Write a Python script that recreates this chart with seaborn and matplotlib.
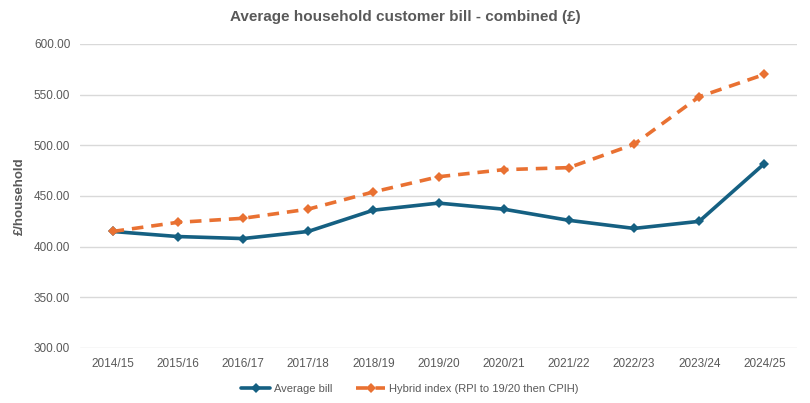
import matplotlib
matplotlib.use("Agg")
import matplotlib.pyplot as plt
import seaborn as sns
import pandas as pd
from matplotlib.ticker import FormatStrFormatter
from matplotlib import font_manager

years = ["2014/15", "2015/16", "2016/17", "2017/18", "2018/19", "2019/20",
         "2020/21", "2021/22", "2022/23", "2023/24", "2024/25"]
average_bill = [415, 410, 408, 415, 436, 443, 437, 426, 418, 425, 482]
hybrid_index = [415, 424, 428, 437, 454, 469, 476, 478, 501, 548, 570]
series_names = ["Average bill", "Hybrid index (RPI to 19/20 then CPIH)"]
yticks = [300, 350, 400, 450, 500, 550, 600]

sns.set_theme(style="white")
names = {f.name for f in font_manager.fontManager.ttflist}
fam = "Liberation Sans Narrow" if "Liberation Sans Narrow" in names else "Liberation Sans"
plt.rcParams["font.family"] = [fam, "DejaVu Sans"]

df = pd.DataFrame({
    "year": years * 2,
    "value": average_bill + hybrid_index,
    "series": [series_names[0]] * len(years) + [series_names[1]] * len(years),
})

blue = "#156082"
orange = "#E97132"
txt = "#595959"

fig = plt.figure(figsize=(8.1, 4.03), dpi=100)
ax = fig.add_axes([80/810, 1-348/403, 717/810, 304/403])

sns.lineplot(data=df[df.series == series_names[0]], x="year", y="value", ax=ax,
             color=blue, lw=2.6, marker="D", markersize=5, markeredgewidth=0,
             sort=False, label=series_names[0])
sns.lineplot(data=df[df.series == series_names[1]], x="year", y="value", ax=ax,
             color=orange, lw=2.6, marker="D", markersize=5, markeredgewidth=0,
             sort=False, label=series_names[1])
ax.lines[1].set_linestyle((0, (3.2, 2.2)))

ax.set_xlim(-0.5, len(years) - 0.5)
ax.set_ylim(300, 600)
ax.set_yticks(yticks)
ax.yaxis.set_major_formatter(FormatStrFormatter("%.2f"))
ax.grid(axis="y", color="#D9D9D9", lw=1)
ax.grid(axis="x", visible=False)
for s in ax.spines.values():
    s.set_visible(False)
ax.tick_params(axis="both", length=0, labelsize=8.5, colors=txt)
ax.tick_params(axis="y", pad=7)
ax.tick_params(axis="x", pad=7)
ax.set_xlabel("")
ax.set_ylabel("£/household", fontsize=9.5, fontweight="bold", color=txt, labelpad=6)
fig.text(0.5, 1-17/403, "Average household customer bill - combined (£)",
         ha="center", va="center", fontsize=11, fontweight="bold", color=txt)

leg = ax.legend(loc="center", bbox_to_anchor=(0.46, -0.135), ncol=2, frameon=False,
                fontsize=8, handlelength=2.6, columnspacing=2.2, handletextpad=0.3)
for t in leg.get_texts():
    t.set_color(txt)

fig.savefig("out.png", dpi=100)
